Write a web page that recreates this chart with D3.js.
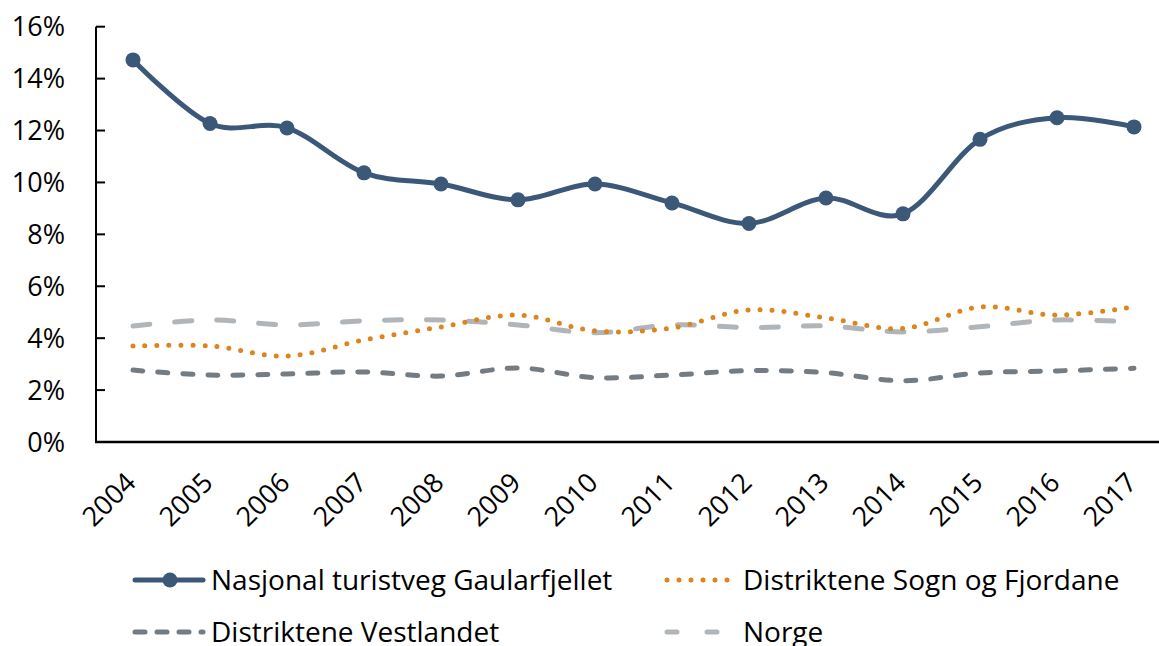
<!doctype html>
<html>
<head>
<meta charset="utf-8"/>
<title>Andel</title>
<script src="https://d3js.org/d3.v7.min.js"></script>
<style>
body { margin:0; background:#fff; }
text { font-family: "Open Sans", Lato, sans-serif; fill:#000; }
</style>
</head>
<body>
<script type="text/javascript">
// data (percent)
var years = ["2004","2005","2006","2007","2008","2009","2010","2011","2012","2013","2014","2015","2016","2017"];
var gaularfjellet = [14.72,12.27,12.10,10.37,9.94,9.33,9.94,9.21,8.42,9.40,8.79,11.66,12.49,12.14];
var sognFjordane  = [3.70,3.70,3.31,3.93,4.43,4.89,4.28,4.39,5.09,4.78,4.37,5.20,4.89,5.21];
var vestlandet    = [2.77,2.58,2.62,2.70,2.54,2.85,2.48,2.58,2.75,2.67,2.36,2.66,2.74,2.84];
var norge         = [4.47,4.70,4.51,4.67,4.70,4.51,4.21,4.51,4.41,4.47,4.24,4.44,4.70,4.62];
var yTicks = [0,2,4,6,8,10,12,14,16];

var series = [
  {name:"Nasjonal turistveg Gaularfjellet", values:gaularfjellet, color:"#3b5878", dash:null, w:5, marker:true},
  {name:"Distriktene Sogn og Fjordane", values:sognFjordane, color:"#dd841c", dash:"0,12", w:5, marker:false},
  {name:"Distriktene Vestlandet", values:vestlandet, color:"#737b83", dash:"10,15", w:5, marker:false},
  {name:"Norge", values:norge, color:"#b0b5ba", dash:"17,25", w:5, marker:false}
];

var W = 1159, H = 646;
var svg = d3.select("body").append("svg").attr("width", W).attr("height", H);

var plotLeft = 96, plotTop = 26.7, plotBottom = 442;
var step = 77;
var x = d3.scalePoint().domain(years).range([133, 133 + step*(years.length-1)]);
var y = d3.scaleLinear().domain([0,16]).range([plotBottom, plotTop]);

// y axis
var gy = svg.append("g").attr("transform","translate(" + plotLeft + ",0)");
gy.append("line").attr("x1",0).attr("x2",0).attr("y1",plotTop).attr("y2",plotBottom)
  .attr("stroke","#000").attr("stroke-width",2);
gy.selectAll("line.tk").data(yTicks).enter().append("line").attr("class","tk")
  .attr("x1",0).attr("x2",9).attr("y1",function(d){return y(d);}).attr("y2",function(d){return y(d);})
  .attr("stroke","#000").attr("stroke-width",2);
gy.selectAll("text").data(yTicks).enter().append("text")
  .attr("x",-31).attr("y",function(d){return y(d);}).attr("dy","0.36em")
  .attr("text-anchor","end").style("font-size","27px")
  .text(function(d){return d + "%";});

// x axis
svg.append("line").attr("x1",plotLeft-1).attr("x2",W).attr("y1",plotBottom).attr("y2",plotBottom)
  .attr("stroke","#000").attr("stroke-width",2.5);
svg.selectAll("text.xl").data(years).enter().append("text").attr("class","xl")
  .attr("text-anchor","end").style("font-size","27px")
  .attr("transform",function(d){return "translate(" + (x(d)-9) + "," + (plotBottom+29) + ") rotate(-45)";})
  .attr("dy","0.7em")
  .text(function(d){return d;});

// lines
var line = d3.line()
  .x(function(d,i){return x(years[i]);})
  .y(function(d){return y(d);})
  .curve(d3.curveCardinal.tension(0));

[3,2,1,0].forEach(function(k){
  var s = series[k];
  svg.append("path").datum(s.values).attr("d", line)
    .attr("fill","none").attr("stroke",s.color).attr("stroke-width",s.w)
    .attr("stroke-linecap","round").attr("stroke-linejoin","round")
    .attr("stroke-dasharray",s.dash);
  if (s.marker) {
    svg.selectAll("circle.m").data(s.values).enter().append("circle").attr("class","m")
      .attr("cx",function(d,i){return x(years[i]);}).attr("cy",function(d){return y(d);})
      .attr("r",7.5).attr("fill",s.color);
  }
});

// legend
var legPos = [[133,580],[665,580],[133,632],[665,632]];
var legDash = [null,"0,12","10,12","10,30"];
series.forEach(function(s,i){
  var g = svg.append("g").attr("transform","translate(" + legPos[i][0] + "," + legPos[i][1] + ")");
  var len = 70;
  g.append("line").attr("x1",2).attr("x2",len).attr("y1",0).attr("y2",0)
    .attr("stroke",s.color).attr("stroke-width",s.w)
    .attr("stroke-linecap","round").attr("stroke-dasharray",legDash[i]);
  if (s.marker) g.append("circle").attr("cx",len/2+2).attr("cy",0).attr("r",7.5).attr("fill",s.color);
  g.append("text").attr("x",len+8).attr("y",0).attr("dy","0.36em")
    .style("font-size","28px").text(s.name);
});
</script>
</body>
</html>
